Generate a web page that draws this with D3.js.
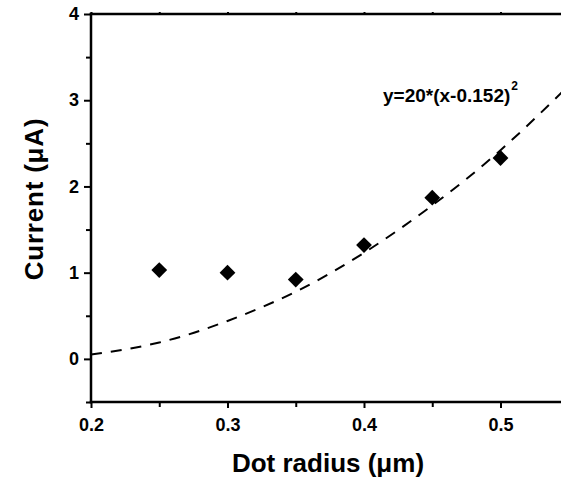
<!DOCTYPE html>
<html>
<head>
<meta charset="utf-8">
<script src="https://cdn.jsdelivr.net/npm/d3@7"></script>
<style>
  body { margin: 0; background: #fff; }
  svg { display: block; }
</style>
</head>
<body>
<div id="chart"></div>
<script>
const width = 561;
const height = 480;
const font = '"Liberation Sans", Arial, sans-serif';

// measured points
const radius = [0.25, 0.30, 0.35, 0.40, 0.45, 0.50];
const current = [1.03, 1.00, 0.92, 1.32, 1.87, 2.33];

// dashed fit curve
const fitX = [0.20, 0.25, 0.30, 0.35, 0.40, 0.45, 0.50, 0.55];
const fitY = [0.05, 0.19, 0.44, 0.78, 1.23, 1.78, 2.42, 3.17];

const xTicks = [0.2, 0.3, 0.4, 0.5];
const xMinor = [0.25, 0.35, 0.45, 0.55];
const yTicks = [0, 1, 2, 3, 4];
const yMinor = [-0.5, 0.5, 1.5, 2.5, 3.5];

const plotLeft = 91, plotTop = 14, plotBottom = 402;

const x = d3.scaleLinear().domain([0.2, 0.55]).range([plotLeft, plotLeft + 477.75]);
const y = d3.scaleLinear().domain([-0.5, 4]).range([plotBottom, plotTop]);

const svg = d3.select('#chart')
  .append('svg')
  .attr('width', width)
  .attr('height', height)
  .style('font-family', font);

function styleAxis(g) {
  g.selectAll('line').attr('stroke', '#000').attr('stroke-width', 2);
  g.selectAll('text')
    .attr('font-family', font)
    .attr('font-size', 18)
    .attr('font-weight', 'bold')
    .attr('fill', '#000');
}

// frame: left, bottom and top axis lines drawn as thin rects
const lw = 2.5;
svg.append('rect')
  .attr('x', x(0.2) - lw / 2).attr('y', y(4) - lw / 2)
  .attr('width', lw).attr('height', y(-0.5) - y(4) + lw)
  .attr('fill', '#000');
svg.append('rect')
  .attr('x', x(0.2) - lw / 2).attr('y', y(-0.5) - lw / 2)
  .attr('width', x(0.55) - x(0.2)).attr('height', lw)
  .attr('fill', '#000');
svg.append('rect')
  .attr('x', x(0.2) - lw / 2).attr('y', y(4) - lw / 2)
  .attr('width', x(0.55) - x(0.2)).attr('height', lw)
  .attr('fill', '#000');

// bottom axis
svg.append('g')
  .attr('transform', `translate(0,${plotBottom})`)
  .call(d3.axisBottom(x).tickValues(xTicks).tickSize(6).tickSizeOuter(0).tickPadding(10).tickFormat(d3.format('.1f')))
  .call(g => g.select('.domain').remove())
  .call(styleAxis);
svg.append('g')
  .attr('transform', `translate(0,${plotBottom})`)
  .call(d3.axisBottom(x).tickValues(xMinor).tickSize(5).tickFormat(''))
  .call(g => g.select('.domain').remove())
  .call(styleAxis);

// top axis, ticks only
svg.append('g')
  .attr('transform', `translate(0,${plotTop})`)
  .call(d3.axisTop(x).tickValues(xTicks.concat(xMinor)).tickSize(2).tickFormat(''))
  .call(g => g.select('.domain').remove())
  .call(styleAxis);

// left axis
svg.append('g')
  .attr('transform', `translate(${plotLeft},0)`)
  .call(d3.axisLeft(y).tickValues(yTicks).tickSize(7).tickPadding(5).tickFormat(d3.format('d')))
  .call(g => g.select('.domain').remove())
  .call(styleAxis);
svg.append('g')
  .attr('transform', `translate(${plotLeft},0)`)
  .call(d3.axisLeft(y).tickValues(yMinor).tickSize(5).tickFormat(''))
  .call(g => g.select('.domain').remove())
  .call(styleAxis);

// fit curve
const fit = fitX.map((d, i) => [d, fitY[i]]);
svg.append('path')
  .datum(fit)
  .attr('fill', 'none')
  .attr('stroke', '#000')
  .attr('stroke-width', 2)
  .attr('stroke-dasharray', '11,9')
  .attr('d', d3.line().x(d => x(d[0])).y(d => y(d[1])).curve(d3.curveNatural));

// diamonds
svg.selectAll('.pt')
  .data(radius)
  .enter()
  .append('path')
  .attr('class', 'pt')
  .attr('transform', (d, i) => `translate(${x(d)},${y(current[i])}) rotate(45)`)
  .attr('d', d3.symbol().type(d3.symbolSquare).size(125))
  .attr('fill', '#000');

// fit label
const eq = svg.append('text')
  .attr('x', 383)
  .attr('y', 102)
  .attr('font-size', 19)
  .attr('font-weight', 'bold')
  .text('y=20*(x-0.152)');
eq.append('tspan')
  .attr('dy', -12)
  .attr('dx', 1)
  .attr('font-size', 12)
  .text('2');

// axis titles
svg.append('text')
  .attr('x', 328)
  .attr('y', 472)
  .attr('text-anchor', 'middle')
  .attr('font-size', 26)
  .attr('font-weight', 'bold')
  .text('Dot radius (\u03bcm)');

svg.append('text')
  .attr('transform', 'translate(43,199) rotate(-90)')
  .attr('text-anchor', 'middle')
  .attr('font-size', 26)
  .attr('letter-spacing', 0.8)
  .attr('font-weight', 'bold')
  .text('Current (\u03bcA)');
</script>
</body>
</html>
